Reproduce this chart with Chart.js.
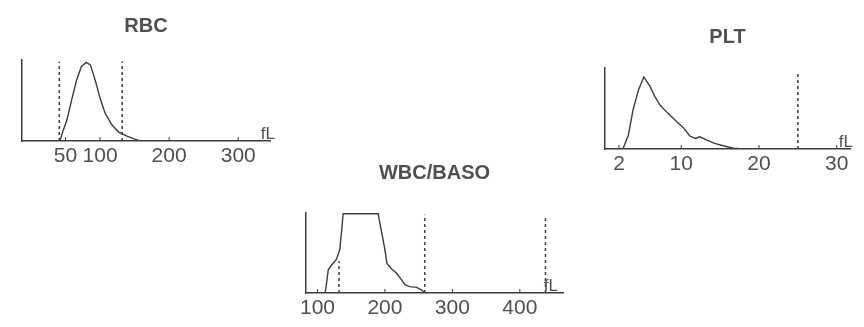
<!DOCTYPE html>
<html>
<head>
<meta charset="utf-8">
<script src="https://cdn.jsdelivr.net/npm/chart.js@4/dist/chart.umd.min.js"></script>
<style>
  html, body { margin: 0; padding: 0; background: #fff; }
  body { width: 864px; height: 327px; position: relative; overflow: hidden; }
  canvas { position: absolute; }
</style>
</head>
<body>
<canvas id="rbc" width="290" height="190" style="left:0;top:0"></canvas>
<canvas id="plt" width="284" height="200" style="left:580px;top:0"></canvas>
<canvas id="wbc" width="290" height="177" style="left:290px;top:150px"></canvas>
<script>
// RBC histogram (fL, relative count %)
const rbcSize = [42, 47, 52, 59, 66, 73, 80, 86, 93, 100, 107, 117, 127, 139, 148, 158];
const rbcCount = [0, 14, 26, 51, 75, 92, 97, 94, 75, 53, 35, 20, 11, 6, 3, 0];
const rbcTicks = [50, 100, 200, 300];
const rbcMarkers = [41, 132];
const rbcMarkerTop = [98, 98];

// PLT histogram
const pltSize = [2.5, 3.2, 3.8, 4.5, 5.2, 6.0, 6.6, 7.3, 8.3, 9.4, 10.3, 11.1, 11.8, 12.4, 13.3, 14.3, 15.4, 16.7, 18];
const pltCount = [0, 17, 48, 73, 89, 77, 65, 54, 44, 34, 26, 16, 13, 15, 11, 7, 4, 1, 0];
const pltTicks = [2, 10, 20, 30];
const pltMarkers = [25];
const pltMarkerTop = [94];

// WBC/BASO histogram
const wbcSize = [111, 112, 116, 121, 128, 133, 136, 138, 190, 193, 196.5, 200, 203, 210, 217, 225, 230, 237, 247, 254, 259];
const wbcCount = [0, 3, 29, 35, 42, 54, 79, 99, 99, 85, 70, 54, 37, 30, 25, 16, 10, 8, 7, 4, 0];
const wbcTicks = [100, 200, 300, 400];
const wbcMarkers = [132, 259, 438];
const wbcMarkerTop = [40, 98, 96];

const INK = '#3c3c3c';
const TEXT = '#505050';

// small upward tick marks + the "fL" unit at the end of the axis
const axisDecor = {
    id: 'axisDecor',
    afterDraw(chart, args, opts) {
        const { ctx, chartArea } = chart;
        const xs = chart.scales.x;
        ctx.save();
        ctx.strokeStyle = INK;
        ctx.lineWidth = 1;
        xs.ticks.forEach(t => {
            const px = xs.getPixelForValue(t.value);
            ctx.beginPath();
            ctx.moveTo(px, chartArea.bottom);
            ctx.lineTo(px, chartArea.bottom - 4);
            ctx.stroke();
        });
        ctx.fillStyle = TEXT;
        ctx.font = '17px "Liberation Sans Narrow", "Liberation Sans", sans-serif';
        ctx.textAlign = 'right';
        ctx.textBaseline = 'alphabetic';
        ctx.fillText(opts.unit, chartArea.right + opts.dx, chartArea.bottom - 2);
        ctx.restore();
    }
};

function makeHistogram(id, cfg) {
    const curve = cfg.size.map((v, i) => ({ x: v, y: cfg.count[i] }));
    const datasets = [{
        data: curve,
        borderColor: INK,
        borderWidth: 1.4,
        pointRadius: 0,
        tension: 0,
        fill: false
    }];
    cfg.markers.forEach((m, i) => {
        datasets.push({
            data: [{ x: m, y: 0 }, { x: m, y: cfg.markerTop[i] }],
            borderColor: INK,
            borderWidth: 1.5,
            borderDash: [3, 3],
            pointRadius: 0,
            fill: false
        });
    });

    return new Chart(document.getElementById(id), {
        type: 'line',
        data: { datasets },
        options: {
            responsive: false,
            animation: false,
            layout: { padding: { left: cfg.padLeft, right: cfg.padRight, top: 0, bottom: 0 } },
            plugins: {
                legend: { display: false },
                tooltip: { enabled: false },
                title: {
                    display: true,
                    text: cfg.title,
                    color: TEXT,
                    font: { family: '"Liberation Sans", Arial, sans-serif', size: 20, weight: 'bold', lineHeight: 1.2 },
                    padding: { top: cfg.titleTop, bottom: cfg.titleBottom }
                },
                axisDecor: { unit: 'fL', dx: cfg.unitDx }
            },
            scales: {
                x: {
                    type: 'linear',
                    min: cfg.min,
                    max: cfg.max,
                    afterBuildTicks: s => { s.ticks = cfg.ticks.map(v => ({ value: v })); },
                    afterFit: s => { s.height = cfg.axisHeight; },
                    grid: { display: false, drawTicks: false },
                    border: { display: true, color: INK, width: 1.5 },
                    ticks: {
                        color: TEXT,
                        padding: 3,
                        maxRotation: 0,
                        autoSkip: false,
                        font: { family: '"Liberation Sans", Arial, sans-serif', size: 21 },
                        callback: v => String(v)
                    }
                },
                y: {
                    type: 'linear',
                    min: 0,
                    max: 100,
                    afterFit: s => { s.width = 0; },
                    grid: { display: false, drawTicks: false },
                    border: { display: true, color: INK, width: 1.5 },
                    ticks: { display: false }
                }
            }
        },
        plugins: [axisDecor]
    });
}

makeHistogram('rbc', {
    title: 'RBC', size: rbcSize, count: rbcCount, ticks: rbcTicks,
    markers: rbcMarkers, markerTop: rbcMarkerTop,
    min: -13, max: 346, padLeft: 22, padRight: 20,
    titleTop: 14, titleBottom: 22, axisHeight: 49, unitDx: 5
});

makeHistogram('plt', {
    title: 'PLT', size: pltSize, count: pltCount, ticks: pltTicks,
    markers: pltMarkers, markerTop: pltMarkerTop,
    min: 0.2, max: 31.7, padLeft: 25, padRight: 14,
    titleTop: 25, titleBottom: 19, axisHeight: 51, unitDx: 3
});

makeHistogram('wbc', {
    title: 'WBC/BASO', size: wbcSize, count: wbcCount, ticks: wbcTicks,
    markers: wbcMarkers, markerTop: wbcMarkerTop,
    min: 83, max: 464, padLeft: 16, padRight: 17,
    titleTop: 11, titleBottom: 28, axisHeight: 34, unitDx: -5
});
</script>
</body>
</html>
